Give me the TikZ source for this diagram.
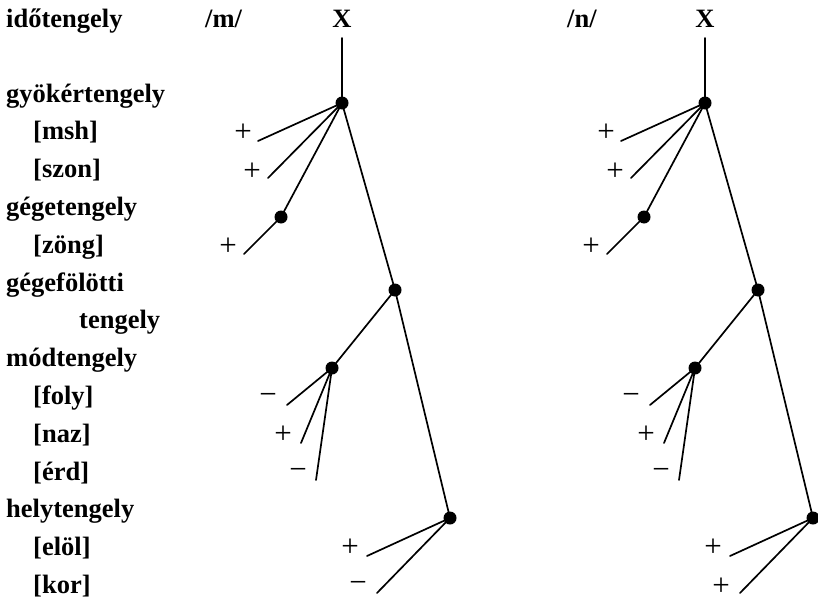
\documentclass[tikz,border=0pt]{standalone}
\usepackage{fontspec}
\setmainfont{Liberation Serif}
\newcommand\drawtree[3]{%
\begin{scope}[xshift=#2]
  \node[hdr] (#1X) at (342,28) {X};
  \coordinate (#1top) at (342,38);
  \node[dot] (#1r) at (342,103) {};
  \node[dot] (#1g) at (281,217) {};
  \node[dot] (#1gf) at (395,290) {};
  \node[dot] (#1m) at (332,368) {};
  \node[dot] (#1h) at (450,518) {};
  \coordinate (#1e1) at (258,141);
  \coordinate (#1e2) at (268,178);
  \coordinate (#1e3) at (244,254);
  \coordinate (#1e4) at (287,405);
  \coordinate (#1e5) at (301,443);
  \coordinate (#1e6) at (316,480);
  \coordinate (#1e7) at (367,556);
  \coordinate (#1e8) at (377,593);
  \node[sgn] (#1s1) at (243,133) {+};
  \node[sgn] (#1s2) at (252,172) {+};
  \node[sgn] (#1s3) at (228,247) {+};
  \node[sgn] (#1s4) at (268,399) {−};
  \node[sgn] (#1s5) at (283,435) {+};
  \node[sgn] (#1s6) at (298,474) {−};
  \node[sgn] (#1s7) at (350,548) {+};
  \node[sgn] (#1s8) at (358,587) {#3};
  \draw[br] (#1top) -- (#1r.center);
  \draw[br] (#1r.center) -- (#1e1);
  \draw[br] (#1r.center) -- (#1e2);
  \draw[br] (#1r.center) -- (#1g.center) -- (#1e3);
  \draw[br] (#1r.center) -- (#1gf.center) -- (#1h.center);
  \draw[br] (#1gf.center) -- (#1m.center);
  \draw[br] (#1m.center) -- (#1e4);
  \draw[br] (#1m.center) -- (#1e5);
  \draw[br] (#1m.center) -- (#1e6);
  \draw[br] (#1h.center) -- (#1e7);
  \draw[br] (#1h.center) -- (#1e8);
\end{scope}}
\begin{document}
\begin{tikzpicture}[x=1pt,y=-1pt,
  lbl/.style={anchor=base west, inner sep=0pt, font=\fontsize{26.5}{30}\selectfont\bfseries},
  hdr/.style={anchor=base, inner sep=0pt, font=\fontsize{26.5}{30}\selectfont\bfseries},
  sgn/.style={inner sep=0pt, font=\fontsize{31}{34}\selectfont},
  dot/.style={circle, fill=black, inner sep=0pt, minimum size=13pt},
  br/.style={line width=1.7pt, line cap=round}]
\useasboundingbox (0,0) rectangle (818,602);
% left column
\node[lbl] (l0) at (6,28) {időtengely};
\node[lbl] (l1) at (6,102) {gyökértengely};
\node[lbl] (l2) at (33,139.8) {[msh]};
\node[lbl] (l3) at (33,177.6) {[szon]};
\node[lbl] (l4) at (6,215.4) {gégetengely};
\node[lbl] (l5) at (33,253.2) {[zöng]};
\node[lbl] (l6) at (6,291) {gégefölötti};
\node[lbl] (l7) at (79,328.8) {tengely};
\node[lbl] (l8) at (6,366.6) {módtengely};
\node[lbl] (l9) at (33,404.4) {[foly]};
\node[lbl] (l10) at (33,442.2) {[naz]};
\node[lbl] (l11) at (33,480) {[érd]};
\node[lbl] (l12) at (6,517.8) {helytengely};
\node[lbl] (l13) at (33,555.6) {[elöl]};
\node[lbl] (l14) at (33,593.4) {[kor]};
% headers
\node[lbl] (hm) at (205,28) {/m/};
\node[lbl] (hn) at (567,28) {/n/};
\drawtree{L}{0}{−}
\drawtree{R}{363}{+}
\end{tikzpicture}
\end{document}
